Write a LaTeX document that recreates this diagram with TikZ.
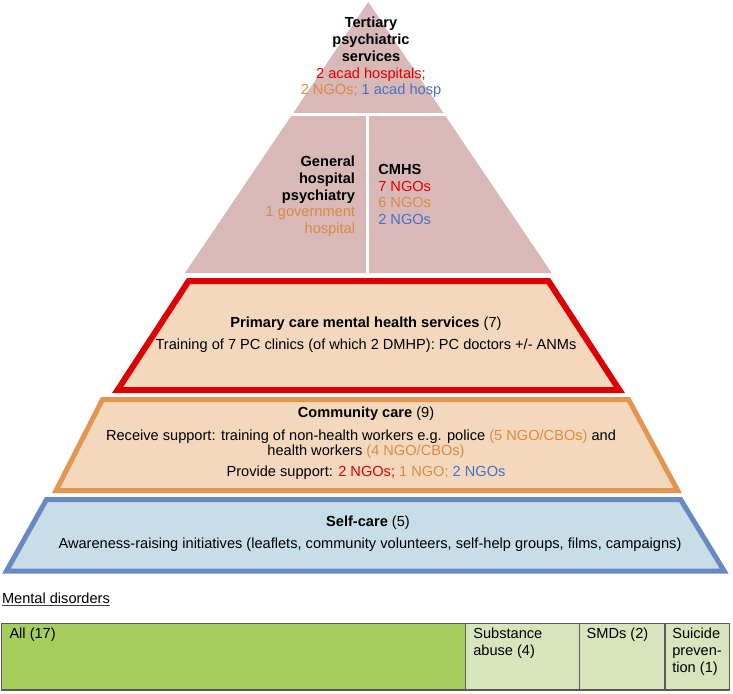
\documentclass[tikz,border=0pt]{standalone}
\usepackage{fontspec}
\setmainfont{Liberation Sans}
\definecolor{pyrfill}{RGB}{217,184,184}
\definecolor{peach}{RGB}{244,216,190}
\definecolor{redline}{RGB}{221,0,0}
\definecolor{orangeline}{RGB}{226,150,80}
\definecolor{blueline}{RGB}{105,137,196}
\definecolor{bluefill}{RGB}{199,222,232}
\definecolor{tred}{RGB}{226,0,0}
\definecolor{torange}{RGB}{218,138,66}
\definecolor{tblue}{RGB}{68,114,196}
\definecolor{allgreen}{RGB}{166,206,94}
\definecolor{lightgreen}{RGB}{216,228,188}
\definecolor{cellborder}{RGB}{90,90,90}
\begin{document}
\begin{tikzpicture}[x=1pt,y=-1pt,
  txt/.style={inner sep=0pt, outer sep=0pt, font=\fontsize{14.6}{16.7}\selectfont, anchor=base},
  txtr/.style={txt, anchor=base east},
  txtl/.style={txt, anchor=base west},
  gap/.style={white, line width=3pt},
  cell/.style={draw=cellborder, line width=1.2pt}]
\useasboundingbox (0,0) rectangle (733,693);
% pyramid
\coordinate (apex) at (368.3,2);
\coordinate (bl) at (185,273);
\coordinate (br) at (551.7,273);
\fill[pyrfill] (apex) -- (br) -- (bl) -- cycle;
\coordinate (hl) at (250,114.5);
\coordinate (hr) at (490,114.5);
\coordinate (vt) at (367,114.5);
\coordinate (vb) at (367,275);
\draw[gap] (hl) -- (hr);
\draw[gap] (vt) -- (vb);
% tertiary
\node[txt] (t1) at (371,28) {\textbf{Tertiary}};
\node[txt] (t2) at (371,44.7) {\textbf{psychiatric}};
\node[txt] (t3) at (371,61.4) {\textbf{services}};
\node[txt] (t4) at (371,78.1) {\color{tred}2 acad hospitals;};
\node[txt] (t5) at (371,94.8) {\color{torange}2 NGOs; \color{tblue}1 acad hosp};
% general hospital psychiatry
\node[txtr] (g1) at (355,166.7) {\textbf{General}};
\node[txtr] (g2) at (355,183.4) {\textbf{hospital}};
\node[txtr] (g3) at (355,200.1) {\textbf{psychiatry}};
\node[txtr] (g4) at (355,216.8) {\color{torange}1 government};
\node[txtr] (g5) at (355,233.5) {\color{torange}hospital};
% CMHS
\node[txtl] (c1) at (378.3,174.3) {\textbf{CMHS}};
\node[txtl] (c2) at (378.3,191) {\color{tred}7 NGOs};
\node[txtl] (c3) at (378.3,207.7) {\color{torange}6 NGOs};
\node[txtl] (c4) at (378.3,224.4) {\color{tblue}2 NGOs};
% primary care
\coordinate (r1) at (188.6,281);
\coordinate (r2) at (548.4,281);
\coordinate (r3) at (619.4,390);
\coordinate (r4) at (117.6,390);
\filldraw[fill=peach, draw=redline, line width=6pt] (r1) -- (r2) -- (r3) -- (r4) -- cycle;
\node[txt] (p1) at (366,327.7) {\textbf{Primary care mental health services} (7)};
\node[txt] (p2) at (366,349.3) {Training of 7 PC clinics (of which 2 DMHP): PC doctors +/- ANMs};
% community care
\coordinate (o1) at (102.5,399.5);
\coordinate (o2) at (628.6,399.5);
\coordinate (o3) at (677.7,490.5);
\coordinate (o4) at (56.1,490.5);
\filldraw[fill=peach, draw=orangeline, line width=5pt] (o1) -- (o2) -- (o3) -- (o4) -- cycle;
\node[txt] (k1) at (366,417.7) {\textbf{Community care} (9)};
\node[txt] (k2) at (361,440) {Receive support: training of non-health workers e.g. police {\color{torange}(5 NGO/CBOs)} and};
\node[txt] (k3) at (366,455.5) {health workers {\color{torange}(4 NGO/CBOs)}};
\node[txt] (k4) at (366,476.7) {Provide support: {\color{tred}2 NGOs;} {\color{torange}1 NGO;} {\color{tblue}2 NGOs}};
% self-care
\coordinate (s1) at (46.5,499.5);
\coordinate (s2) at (680.6,499.5);
\coordinate (s3) at (724.2,571);
\coordinate (s4) at (6.5,571);
\filldraw[fill=bluefill, draw=blueline, line width=5pt] (s1) -- (s2) -- (s3) -- (s4) -- cycle;
\node[txt] (e1) at (368,526.7) {\textbf{Self-care} (5)};
\node[txt] (e2) at (370,548.3) {Awareness-raising initiatives (leaflets, community volunteers, self-help groups, films, campaigns)};
% mental disorders
\node[txtl] (md) at (2,603.8) {Mental disorders};
\draw[line width=0.8pt, black!75] ([yshift=-1.8pt]md.base west) -- ([yshift=-1.8pt]md.base east);
% table
\filldraw[cell, fill=allgreen] (1.7,623.3) rectangle (465.7,690);
\filldraw[cell, fill=lightgreen] (465.7,623.3) rectangle (579.3,690);
\filldraw[cell, fill=lightgreen] (579.3,623.3) rectangle (665,690);
\filldraw[cell, fill=lightgreen] (665,623.3) rectangle (729.3,690);
\node[txtl] (a1) at (9.5,638.3) {All (17)};
\node[txtl] (b1) at (473.3,638.3) {Substance};
\node[txtl] (b2) at (473.3,655.3) {abuse (4)};
\node[txtl] (d1) at (586.7,638.3) {SMDs (2)};
\node[txtl] (f1) at (672.3,638.3) {Suicide};
\node[txtl] (f2) at (672.3,655.3) {preven-};
\node[txtl] (f3) at (672.3,672) {tion (1)};
\end{tikzpicture}
\end{document}
